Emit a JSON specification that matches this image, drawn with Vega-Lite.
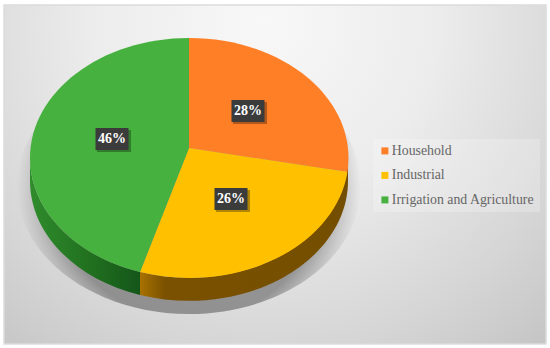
{
"$schema":"https://vega.github.io/schema/vega-lite/v6.json",
"width":550,"height":348,
"autosize":{"type":"fit","contains":"padding"},
"padding":0,
"background":"white",
"config":{"view":{"stroke":null}},
"data":{"values":[
{"use":"Household","share":0.28},
{"use":"Industrial","share":0.26},
{"use":"Irrigation and Agriculture","share":0.46}
]},
"layer":[
{"data":{"values":[{}]},
 "mark":{"type":"rect","stroke":"#dcdcdc","strokeWidth":1.5,
  "fill":{"gradient":"radial","x1":0.48,"y1":0.22,"x2":0.48,"y2":0.22,"r1":0,"r2":0.8,
   "stops":[{"offset":0,"color":"#f8f8f8"},{"offset":0.4,"color":"#ececec"},{"offset":0.75,"color":"#d6d6d6"},{"offset":1,"color":"#c4c4c4"}]}},
 "encoding":{"x":{"value":4},"x2":{"value":546},"y":{"value":5},"y2":{"value":344}}},
{"data":{"values":[{}]},
 "mark":{"type":"point","filled":true,"opacity":1,"size":4,"shape":"M-172,0A172,128 0 0 1 0,-128A172,128 0 0 1 172,0A172,128 0 0 1 0,128A172,128 0 0 1 -172,0Z",
  "fill":{"gradient":"radial","x1":0.5,"y1":0.5,"x2":0.5,"y2":0.5,"r1":0.39,"r2":0.5,
   "stops":[{"offset":0,"color":"rgba(85,85,85,0.55)"},{"offset":1,"color":"rgba(120,120,120,0)"}]}},
 "encoding":{"x":{"value":189},"y":{"value":186}}},
{"transform":[{"filter":"datum.use==='Irrigation and Agriculture'"}],
 "mark":{"type":"point","filled":true,"opacity":1,"size":4,"shape":"M-49,124A159,120 0 0 1 -159,10L-159,33A159,120 0 0 0 -49,147Z",
  "fill":{"gradient":"linear","x1":0,"y1":0,"x2":1,"y2":0,"stops":[{"offset":0,"color":"#2f8c2c"},{"offset":0.55,"color":"#21701f"},{"offset":1,"color":"#14561a"}]}},
 "encoding":{"x":{"value":189},"y":{"value":148}}},
{"transform":[{"filter":"datum.use==='Industrial'"}],
 "mark":{"type":"point","filled":true,"opacity":1,"size":4,"shape":"M159,10A159,120 0 0 1 -49,124L-49,147A159,120 0 0 0 159,33Z",
  "fill":{"gradient":"linear","x1":0,"y1":0,"x2":1,"y2":0,"stops":[{"offset":0,"color":"#a87200"},{"offset":0.12,"color":"#7a5100"},{"offset":1,"color":"#744e00"}]}},
 "encoding":{"x":{"value":189},"y":{"value":148}}},
{"transform":[{"filter":"datum.use==='Household'"}],
 "mark":{"type":"point","filled":true,"opacity":1,"size":4,"shape":"M0,0L0,-110A159,120 0 0 1 158.4,24Z"},
 "encoding":{"x":{"value":189},"y":{"value":148},
  "color":{"field":"use","type":"nominal",
   "scale":{"domain":["Household","Industrial","Irrigation and Agriculture"],"range":["#ff7f27","#ffc000","#47b13f"]},
   "legend":{"title":null,"orient":"none","legendX":373,"legendY":139,"symbolType":"square","symbolSize":49,"symbolStrokeWidth":0,
    "labelFont":"Liberation Serif","labelFontSize":13.8,"labelColor":"#666666","labelLimit":200,"labelOffset":0,"rowPadding":9.5,"padding":5,
    "fillColor":"rgba(255,255,255,0.22)"}}}},
{"transform":[{"filter":"datum.use==='Industrial'"}],
 "mark":{"type":"point","filled":true,"opacity":1,"size":4,"shape":"M0,0L158.4,24A159,120 0 0 1 -49,124Z"},
 "encoding":{"x":{"value":189},"y":{"value":148},"color":{"field":"use","type":"nominal"}}},
{"transform":[{"filter":"datum.use==='Irrigation and Agriculture'"}],
 "mark":{"type":"point","filled":true,"opacity":1,"size":4,"shape":"M0,0L-49,124A159,120 0 0 1 -159,10A159,120 0 0 1 0,-110Z"},
 "encoding":{"x":{"value":189},"y":{"value":148},"color":{"field":"use","type":"nominal"}}},
{"mark":{"type":"point","filled":true,"opacity":0.3,"size":4,"fill":"#000000","shape":"M-15,-9H19V13H-15Z"},
 "encoding":{"x":{"field":"share","type":"quantitative","axis":null,"scale":{"domain":[0.26,0.28,0.46],"range":[231,248,112],"nice":false,"zero":false}},
  "y":{"field":"share","type":"quantitative","axis":null,"scale":{"domain":[0.26,0.28,0.46],"range":[199,111,139],"nice":false,"zero":false}}}},
{"mark":{"type":"point","filled":true,"opacity":1,"size":4,"fill":"#3b3b3b","shape":"M-16.5,-11H16.5V11H-16.5Z"},
 "encoding":{"x":{"field":"share","type":"quantitative"},"y":{"field":"share","type":"quantitative"}}},
{"mark":{"type":"text","font":"Liberation Serif","fontSize":14,"fontWeight":"bold","color":"#ffffff","align":"center","baseline":"middle"},
 "encoding":{"x":{"field":"share","type":"quantitative"},"y":{"field":"share","type":"quantitative"},
  "text":{"field":"share","type":"quantitative","format":".0%"}}}
]
}
